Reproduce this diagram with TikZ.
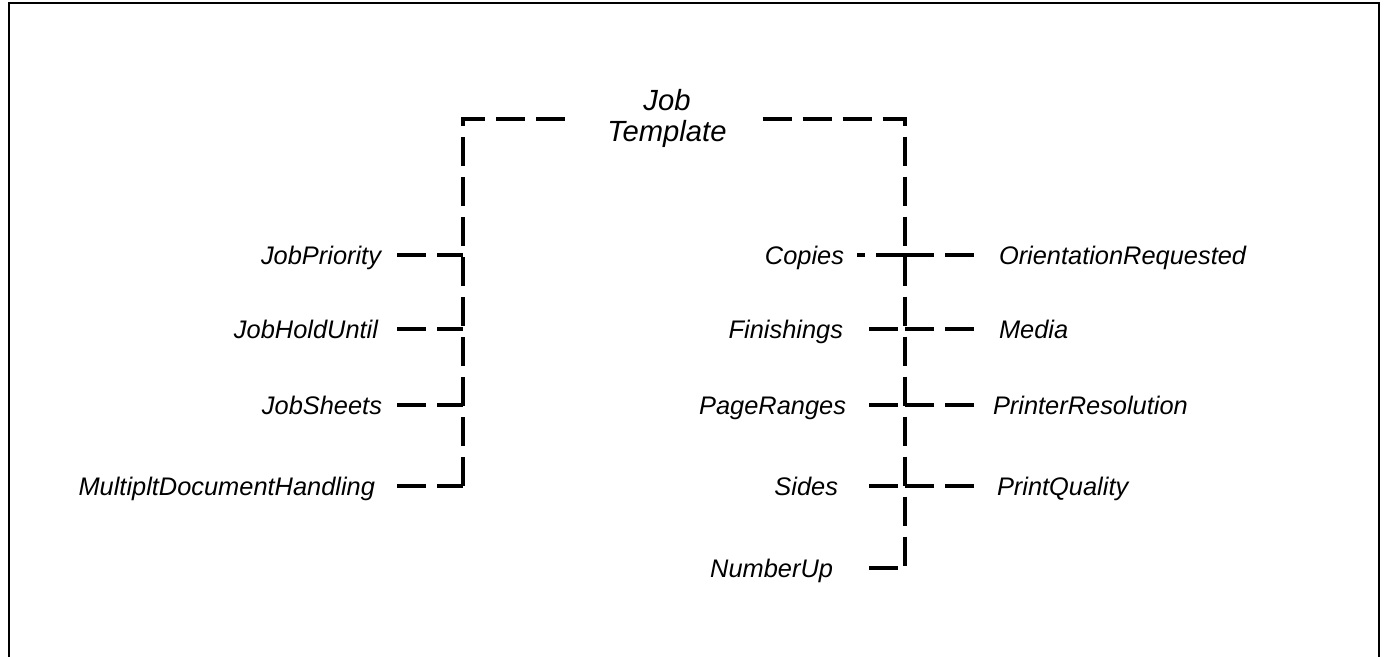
\documentclass[tikz,border=0pt]{standalone}
\usepackage{fontspec}
\setmainfont{Liberation Sans}
\usetikzlibrary{calc}

\tikzset{
  lbl/.style={font=\fontsize{12.7}{15}\selectfont\itshape, text height=9.1pt, text depth=0pt, inner ysep=0pt, outer sep=0pt},
  branch/.style={line width=1.8pt, dash pattern=on 14.5pt off 5.5pt},
  frameline/.style={line width=1.1pt}
}

\begin{document}
\begin{tikzpicture}[x=0.5pt, y=-0.5pt]
\useasboundingbox (0,0) rectangle (1387,657);
\draw[frameline] (9,657) -- (9,3) -- (1379,3) -- (1379,657);

\coordinate (tl) at (463,119);
\coordinate (tr) at (905,119);
\node[font=\fontsize{14.6}{15.5}\selectfont\itshape, align=center, inner xsep=18pt, outer sep=0pt] (title) at (667,118) {Job\\Template};

% left trunk attributes
\foreach \nm/\txt/\y/\gap in {jp/JobPriority/255/8pt, jhu/JobHoldUntil/329/9.5pt, js/JobSheets/405/7.5pt, mdh/MultipltDocumentHandling/486/11pt} {
  \node[lbl, anchor=east, inner xsep=\gap] (\nm) at (397,\y) {\txt};
  \draw[branch] (\nm.east) -- (\nm.east -| tl);
}

% right trunk, inner side
\node[lbl, anchor=east, inner xsep=6.5pt] (copies) at (857,255) {Copies};
\draw[branch] (copies.east -| tr) -- (copies.east);
\foreach \nm/\txt/\y/\gap in {fin/Finishings/329/13pt, pr/PageRanges/405/11.5pt, sides/Sides/486/15.5pt, nup/NumberUp/568/18pt} {
  \node[lbl, anchor=east, inner xsep=\gap] (\nm) at (869,\y) {\txt};
  \draw[branch] (\nm.east) -- (\nm.east -| tr);
}

% right trunk, outer side
\node[lbl, anchor=west, inner xsep=12.5pt] (orient) at (974,255) {OrientationRequested};
\draw[branch] (orient.west -| tr) -- (orient.west);
\foreach \nm/\txt/\y/\gap in {media/Media/329/12.5pt, pres/PrinterResolution/405/9.5pt, pq/PrintQuality/486/11.5pt} {
  \node[lbl, anchor=west, inner xsep=\gap] (\nm) at (974,\y) {\txt};
  \draw[branch] (\nm.west) -- (\nm.west -| tr);
}

% trunks
\draw[branch] (mdh.east -| tl) -- (tl) -- (title.west |- tl);
\draw[branch] (title.east |- tr) -- (tr) -- (nup.east -| tr);
\end{tikzpicture}
\end{document}
